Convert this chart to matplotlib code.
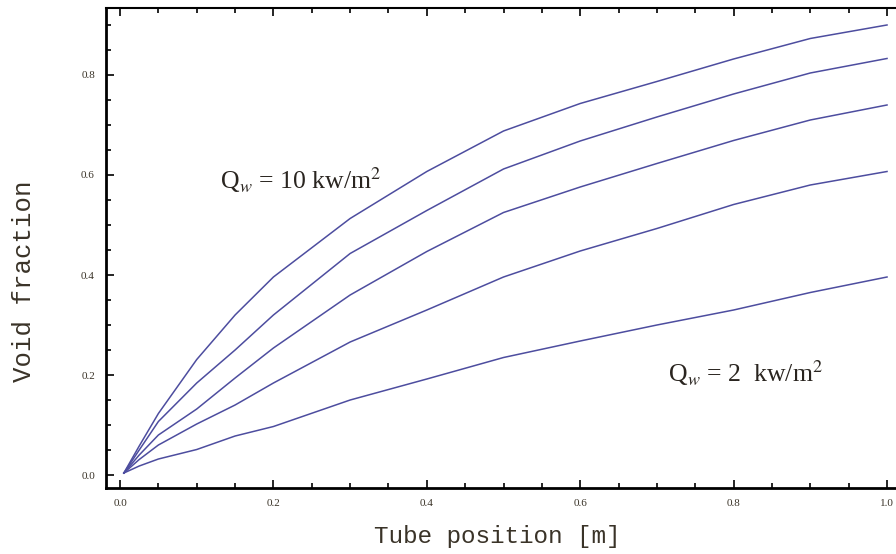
import matplotlib
matplotlib.use("Agg")
import matplotlib.pyplot as plt
from matplotlib.ticker import MultipleLocator, FormatStrFormatter

# Tube position [m]
posicao = [0.005, 0.025, 0.05, 0.1, 0.15, 0.2, 0.3, 0.4, 0.5, 0.6, 0.7, 0.8, 0.9, 1.0]

# Void fraction, from highest heat flux (10 kW/m2) to lowest (2 kW/m2)
alfa_q10 = [0.004, 0.058, 0.123, 0.231, 0.320, 0.396, 0.513, 0.607, 0.688, 0.743, 0.787, 0.832, 0.873, 0.900]
alfa_q8 = [0.004, 0.050, 0.107, 0.184, 0.250, 0.320, 0.443, 0.529, 0.612, 0.668, 0.716, 0.762, 0.804, 0.833]
alfa_q6 = [0.004, 0.040, 0.080, 0.132, 0.194, 0.254, 0.360, 0.447, 0.525, 0.576, 0.623, 0.669, 0.710, 0.740]
alfa_q4 = [0.004, 0.031, 0.060, 0.102, 0.140, 0.184, 0.266, 0.330, 0.396, 0.448, 0.493, 0.541, 0.580, 0.607]
alfa_q2 = [0.004, 0.018, 0.032, 0.051, 0.078, 0.097, 0.150, 0.192, 0.235, 0.268, 0.300, 0.330, 0.365, 0.396]

curvas = [alfa_q10, alfa_q8, alfa_q6, alfa_q4, alfa_q2]

plt.rcParams['mathtext.fontset'] = 'stix'

fig = plt.figure(figsize=(8.96, 5.54), dpi=100)
ax = fig.add_axes([0.1183, 0.1191, 0.8817, 0.8665])

for alfa in curvas:
    ax.plot(posicao, alfa, color='#4d4d9f', linewidth=1.1)

ax.set_xlim(-0.0183, 1.0117)
ax.set_ylim(-0.026, 0.934)

ax.xaxis.set_major_locator(MultipleLocator(0.2))
ax.xaxis.set_minor_locator(MultipleLocator(0.05))
ax.yaxis.set_major_locator(MultipleLocator(0.2))
ax.yaxis.set_minor_locator(MultipleLocator(0.05))
ax.xaxis.set_major_formatter(FormatStrFormatter('%.1f'))
ax.yaxis.set_major_formatter(FormatStrFormatter('%.1f'))

ax.tick_params(which='both', direction='in', top=True, right=False, width=1.2,
               labelsize=8, labelfontfamily='Liberation Serif', labelcolor='#3a3328')
ax.tick_params(which='major', length=6)
ax.tick_params(which='minor', length=3.5)
ax.tick_params(axis='x', pad=8)
ax.tick_params(axis='y', pad=8)

for lado in ['left', 'bottom']:
    ax.spines[lado].set_linewidth(2.0)
ax.spines['top'].set_linewidth(1.5)
ax.spines['right'].set_visible(False)

ax.set_xlabel('Tube position [m]', family='Liberation Mono', fontsize=17.5,
              color='#3a3328')
ax.set_ylabel('Void fraction', family='Liberation Mono', fontsize=18.5,
              color='#3a3328')
ax.xaxis.set_label_coords(0.495, -0.078)
ax.yaxis.set_label_coords(-0.088, 0.43)

ax.text(0.13, 0.59, r'Q$_w$ = 10 kw/m$^2$', family='Liberation Serif', fontsize=18.5,
        color='#2a2520', va='center')
ax.text(0.714, 0.204, r'Q$_w$ = 2  kw/m$^2$', family='Liberation Serif', fontsize=18.5,
        color='#2a2520', va='center')

fig.savefig('out.png', dpi=100)
